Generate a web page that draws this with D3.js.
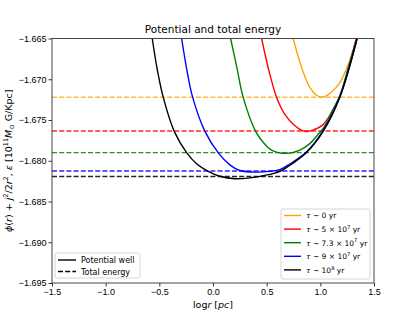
<!DOCTYPE html>
<html lang="en">
<head>
<meta charset="UTF-8">
<title>Potential and total energy</title>
<script src="https://d3js.org/d3.v7.min.js"></script>
<style>
  body { margin: 0; background: #fff; }
  svg { font-family: "DejaVu Sans", sans-serif; }
  .tick text { font-size: 9px; fill: #000; }
  .tick line { stroke: #000; stroke-width: 0.8; }
  .domain { display: none; }
</style>
</head>
<body>
<svg></svg>
<script>
// data: log r [pc] and energy values
const blackX = [-0.566,-0.518,-0.464,-0.361,-0.246,-0.150,-0.045,0.064,0.204,0.344,0.483,0.623,0.744,0.872,1.026,1.182,1.343];
const blackY = [-1.6650,-1.6689,-1.6722,-1.6764,-1.6790,-1.6804,-1.6813,-1.6819,-1.6822,-1.6821,-1.6818,-1.6813,-1.6803,-1.6790,-1.6764,-1.6722,-1.6650];
const blueX  = [-0.292,-0.243,-0.190,-0.075,0.048,0.157,0.250,0.406,0.530,0.623,0.716,0.872,1.026,1.182,1.342];
const blueY  = [-1.6650,-1.6689,-1.6722,-1.6764,-1.6790,-1.6805,-1.6812,-1.6814,-1.6813,-1.6811,-1.6804,-1.6789,-1.6763,-1.6721,-1.6650];
const greenX = [0.164,0.223,0.281,0.397,0.465,0.546,0.685,0.809,0.902,0.977,1.033,1.107,1.182,1.256,1.340];
const greenY = [-1.6650,-1.6686,-1.6722,-1.6764,-1.6777,-1.6787,-1.6791,-1.6787,-1.6779,-1.6768,-1.6759,-1.6740,-1.6720,-1.6688,-1.6650];
const redX   = [0.453,0.520,0.592,0.669,0.763,0.856,0.939,1.023,1.107,1.182,1.256,1.335];
const redY   = [-1.6650,-1.6689,-1.6722,-1.6743,-1.6757,-1.6764,-1.6762,-1.6756,-1.6740,-1.6721,-1.6689,-1.6650];
const orangeX = [0.747,0.809,0.860,0.902,0.958,1.011,1.060,1.110,1.182,1.256,1.340];
const orangeY = [-1.6650,-1.6679,-1.6698,-1.6710,-1.6719,-1.6722,-1.6720,-1.6715,-1.6704,-1.6683,-1.6650];

// total energy of each orbit (dashed lines)
const energies = [-1.6722, -1.67635, -1.6790, -1.68126, -1.68193];
const colors = ["orange", "red", "green", "blue", "black"];
const tauMantissa = ["0", "5 \u00d7 10", "7.3 \u00d7 10", "9 \u00d7 10", "10"];
const tauExponent = ["", "7", "7", "7", "8"];

const xTicks = [-1.5, -1.0, -0.5, 0.0, 0.5, 1.0, 1.5];
const yTicks = [-1.695, -1.690, -1.685, -1.680, -1.675, -1.670, -1.665];

const width = 415, height = 319;
const margin = {left: 52, right: 41, top: 38.5, bottom: 36};
const svg = d3.select("svg").attr("width", width).attr("height", height);

const x = d3.scaleLinear().domain([-1.5, 1.5]).range([margin.left, width - margin.right]);
const y = d3.scaleLinear().domain([-1.695, -1.665]).range([height - margin.bottom, margin.top]);

const minus = s => s.replace("-", "\u2212");

svg.append("defs").append("clipPath").attr("id", "clip")
  .append("rect")
  .attr("x", x(-1.5)).attr("y", y(-1.665))
  .attr("width", x(1.5) - x(-1.5)).attr("height", y(-1.695) - y(-1.665));

const plot = svg.append("g").attr("clip-path", "url(#clip)");

const series = [
  [orangeX, orangeY], [redX, redY], [greenX, greenY], [blueX, blueY], [blackX, blackY]
];

const line = d3.line().x(d => x(d[0])).y(d => y(d[1])).curve(d3.curveCatmullRom.alpha(0.5));

series.forEach((s, i) => {
  const pts = s[0].map((v, k) => [v, s[1][k]]);
  plot.append("path")
    .attr("d", line(pts))
    .attr("fill", "none")
    .attr("stroke", colors[i])
    .attr("stroke-width", 1.4);
  plot.append("line")
    .attr("x1", x(-1.5)).attr("x2", x(1.5))
    .attr("y1", y(energies[i])).attr("y2", y(energies[i]))
    .attr("stroke", colors[i])
    .attr("stroke-opacity", i === 0 ? 0.75 : 0.85)
    .attr("stroke-width", 1.4)
    .attr("stroke-dasharray", "5,2.2");
});

// axes
svg.append("g")
  .attr("transform", `translate(0,${y(-1.695)})`)
  .call(d3.axisBottom(x).tickValues(xTicks).tickSize(3.5).tickPadding(2)
    .tickFormat(d => minus(d3.format(".1f")(d))));

svg.append("g")
  .attr("transform", `translate(${x(-1.5)},0)`)
  .call(d3.axisLeft(y).tickValues(yTicks).tickSize(3.5).tickPadding(2)
    .tickFormat(d => minus(d3.format(".3f")(d))));

svg.append("rect")
  .attr("x", x(-1.5)).attr("y", y(-1.665))
  .attr("width", x(1.5) - x(-1.5)).attr("height", y(-1.695) - y(-1.665))
  .attr("fill", "none").attr("stroke", "#333").attr("stroke-width", 0.9);

// title
svg.append("text")
  .attr("x", (x(-1.5) + x(1.5)) / 2).attr("y", 33)
  .attr("text-anchor", "middle").attr("font-size", 10.5)
  .text("Potential and total energy");

// x label
const xl = svg.append("text")
  .attr("x", (x(-1.5) + x(1.5)) / 2).attr("y", 308)
  .attr("text-anchor", "middle").attr("font-size", 9.5);
xl.append("tspan").text("log");
xl.append("tspan").attr("font-style", "italic").text("r");
xl.append("tspan").text(" [");
xl.append("tspan").attr("font-style", "italic").text("pc");
xl.append("tspan").text("]");

// y label
const yl = svg.append("text")
  .attr("transform", `translate(12,${(y(-1.665) + y(-1.695)) / 2}) rotate(-90)`)
  .attr("text-anchor", "middle").attr("font-size", 9.5);
yl.append("tspan").attr("font-style", "italic").text("\u03d5");
yl.append("tspan").text("(");
yl.append("tspan").attr("font-style", "italic").text("r");
yl.append("tspan").text(") + ");
yl.append("tspan").attr("font-style", "italic").text("j");
yl.append("tspan").attr("font-size", 6.5).attr("dy", -4).text("2");
yl.append("tspan").attr("dy", 4).text("/2");
yl.append("tspan").attr("font-style", "italic").text("r");
yl.append("tspan").attr("font-size", 6.5).attr("dy", -4).text("2");
yl.append("tspan").attr("dy", 4).text(",  ");
yl.append("tspan").attr("font-style", "italic").text("\u03b5");
yl.append("tspan").text(" [10");
yl.append("tspan").attr("font-size", 6.5).attr("dy", -4).text("11");
yl.append("tspan").attr("dy", 4).attr("font-style", "italic").text("M");
yl.append("tspan").attr("font-size", 6.5).attr("dy", 2).text("\u2299");
yl.append("tspan").attr("dy", -2).text(" G/Kpc]");

// legend: line styles
const lg1 = svg.append("g");
lg1.append("rect").attr("x", 55).attr("y", 253).attr("width", 85).attr("height", 25)
  .attr("rx", 2).attr("fill", "#fff").attr("fill-opacity", 0.8)
  .attr("stroke", "#ccc").attr("stroke-width", 0.8);
[["Potential well", null], ["Total energy", "5,2.2"]].forEach((d, i) => {
  const yy = 260 + i * 11.5;
  lg1.append("line").attr("x1", 58).attr("x2", 76).attr("y1", yy).attr("y2", yy)
    .attr("stroke", "#000").attr("stroke-width", 1.4)
    .attr("stroke-dasharray", d[1]);
  lg1.append("text").attr("x", 81).attr("y", yy + 3).attr("font-size", 8).text(d[0]);
});

// legend: evolution time
const lg2 = svg.append("g");
lg2.append("rect").attr("x", 281).attr("y", 209).attr("width", 89).attr("height", 70)
  .attr("rx", 2).attr("fill", "#fff").attr("fill-opacity", 0.8)
  .attr("stroke", "#ccc").attr("stroke-width", 0.8);
colors.forEach((c, i) => {
  const yy = 215.5 + i * 13.6;
  lg2.append("line").attr("x1", 284).attr("x2", 301).attr("y1", yy).attr("y2", yy)
    .attr("stroke", c).attr("stroke-width", 1.4);
  const t = lg2.append("text").attr("x", 306).attr("y", yy + 2.8).attr("font-size", 7.5);
  t.append("tspan").attr("font-style", "italic").text("\u03c4");
  t.append("tspan").text(" ~ " + tauMantissa[i]);
  if (tauExponent[i]) {
    t.append("tspan").attr("font-size", 5.2).attr("dy", -3.2).text(tauExponent[i]);
    t.append("tspan").attr("dy", 3.2).text(" yr");
  } else {
    t.append("tspan").text(" yr");
  }
});
</script>
</body>
</html>
